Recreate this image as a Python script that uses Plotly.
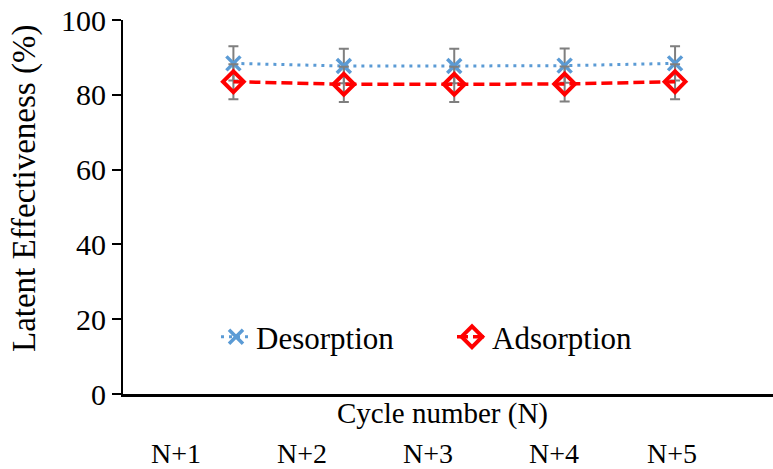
import plotly.graph_objects as go

cycles = [1, 2, 3, 4, 5]
tick_labels = ["N+1", "N+2", "N+3", "N+4", "N+5"]
desorption = [88.4, 87.7, 87.7, 87.8, 88.4]
adsorption = [83.5, 82.8, 82.8, 82.9, 83.5]
desorption_err = [4.6, 4.6, 4.6, 4.6, 4.6]
adsorption_err = [4.7, 4.7, 4.7, 4.7, 4.7]
y_ticks = [0, 20, 40, 60, 80, 100]

FONT = "Liberation Serif"
W, H = 773, 469
ML, MR, MT, MB = 123, 0, 20, 75
pw, ph = W - ML - MR, H - MT - MB

def px_to_paper_x(px):
    return (px - ML) / pw

def px_to_paper_y(py):
    return (H - MB - py) / ph

fig = go.Figure()
fig.add_trace(go.Scatter(
    x=cycles, y=desorption, name="Desorption", mode="lines+markers",
    line=dict(color="#5B9BD5", width=3, dash="3px,5px"),
    marker=dict(symbol="x-thin-open", size=14, line=dict(color="#5B9BD5", width=3.5)),
    error_y=dict(type="data", array=desorption_err, color="#7f7f7f", thickness=2, width=5),
))
fig.add_trace(go.Scatter(
    x=cycles, y=adsorption, name="Adsorption", mode="lines+markers",
    line=dict(color="#FF0000", width=3.5, dash="11px,5px"),
    marker=dict(symbol="diamond-open", size=16, color="#FF0000", line=dict(color="#FF0000", width=4)),
    error_y=dict(type="data", array=adsorption_err, color="#7f7f7f", thickness=2, width=5),
))

annotations = []
label_px = [176, 302, 428, 554, 672]
for lab, px in zip(tick_labels, label_px):
    annotations.append(dict(text=lab, xref="paper", yref="paper",
                            x=px_to_paper_x(px), y=px_to_paper_y(453),
                            xanchor="center", yanchor="middle", showarrow=False,
                            font=dict(family=FONT, size=28, color="black")))
annotations.append(dict(text="Cycle number (N)", xref="paper", yref="paper",
                        x=px_to_paper_x(442), y=px_to_paper_y(413),
                        xanchor="center", yanchor="middle", showarrow=False,
                        font=dict(family=FONT, size=29, color="black")))
annotations.append(dict(text="Latent Effectiveness (%)", xref="paper", yref="paper",
                        x=px_to_paper_x(24), y=px_to_paper_y(189), textangle=-90,
                        xanchor="center", yanchor="middle", showarrow=False,
                        font=dict(family=FONT, size=33, color="black")))

fig.update_layout(
    width=W, height=H,
    margin=dict(l=ML, r=MR, t=MT, b=MB, pad=0),
    paper_bgcolor="white", plot_bgcolor="white",
    font=dict(family=FONT, size=29, color="black"),
    showlegend=True,
    legend=dict(orientation="h", x=px_to_paper_x(216), y=px_to_paper_y(337),
                xanchor="left", yanchor="middle", bgcolor="rgba(0,0,0,0)",
                font=dict(family=FONT, size=31, color="black"),
                entrywidth=191, entrywidthmode="pixels", itemwidth=30),
    annotations=annotations,
)
fig.update_xaxes(range=[0, 5.887], showgrid=False, zeroline=False, showline=True,
                 linecolor="black", linewidth=2.5, ticks="", showticklabels=False)
fig.update_yaxes(range=[0, 100], tickvals=y_ticks, showgrid=False,
                 zeroline=False, showline=True, linecolor="black", linewidth=2,
                 ticks="outside", ticklen=9, tickwidth=2, tickcolor="black",
                 ticksuffix="\u2002",
                 tickfont=dict(family=FONT, size=30, color="black"))

fig.write_html("out.html")
